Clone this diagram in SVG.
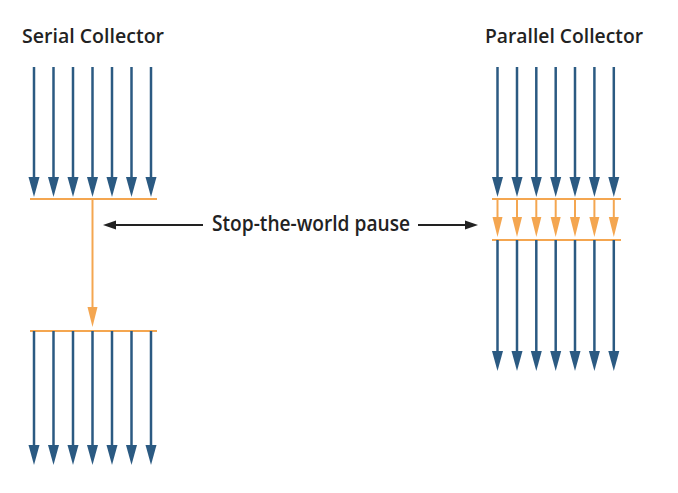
<svg xmlns="http://www.w3.org/2000/svg" width="678" height="493" viewBox="0 0 678 493">
<style>
.title{font-family:"Open Sans","Liberation Sans",sans-serif;font-weight:600;font-size:20.5px;fill:#222}
.label{font-family:"Open Sans","Liberation Sans",sans-serif;font-weight:600;font-size:21px;fill:#222}
.blue{stroke:#2b5a82;stroke-width:2.5;fill:none;marker-end:url(#hb)}
.orange{stroke:#f4a650;stroke-width:2;fill:none}
.oarrow{stroke:#f4a650;stroke-width:2;fill:none;marker-end:url(#ho)}
.black{stroke:#222;stroke-width:2;fill:none;marker-end:url(#hk)}
</style>
<defs>
<marker id="hb" markerUnits="userSpaceOnUse" markerWidth="21" markerHeight="12" refX="0" refY="6" orient="auto" overflow="visible"><path d="M0,0.5 L20,6 L0,11.5 z" fill="#2b5a82"/></marker>
<marker id="ho" markerUnits="userSpaceOnUse" markerWidth="21" markerHeight="12" refX="0" refY="6" orient="auto" overflow="visible"><path d="M0,1 L20,6 L0,11 z" fill="#f4a650"/></marker>
<marker id="hk" markerUnits="userSpaceOnUse" markerWidth="14" markerHeight="10" refX="0" refY="5" orient="auto" overflow="visible"><path d="M0,0.5 L13,5 L0,9.5 z" fill="#222"/></marker>
</defs>
<rect width="678" height="493" fill="#ffffff"/>

<g id="serial">
<text class="title" x="22" y="43" textLength="142" lengthAdjust="spacingAndGlyphs">Serial Collector</text>
<g id="serial-threads-before">
<line class="blue" x1="34" y1="67" x2="34" y2="177"/>
<line class="blue" x1="53.5" y1="67" x2="53.5" y2="177"/>
<line class="blue" x1="73" y1="67" x2="73" y2="177"/>
<line class="blue" x1="92.5" y1="67" x2="92.5" y2="177"/>
<line class="blue" x1="112" y1="67" x2="112" y2="177"/>
<line class="blue" x1="131.5" y1="67" x2="131.5" y2="177"/>
<line class="blue" x1="151" y1="67" x2="151" y2="177"/>
</g>
<line class="orange" x1="30" y1="199" x2="157" y2="199"/>
<line class="oarrow" x1="92.5" y1="199" x2="92.5" y2="307"/>
<line class="orange" x1="30" y1="331" x2="157" y2="331"/>
<g id="serial-threads-after">
<line class="blue" x1="34" y1="331" x2="34" y2="445"/>
<line class="blue" x1="53.5" y1="331" x2="53.5" y2="445"/>
<line class="blue" x1="73" y1="331" x2="73" y2="445"/>
<line class="blue" x1="92.5" y1="331" x2="92.5" y2="445"/>
<line class="blue" x1="112" y1="331" x2="112" y2="445"/>
<line class="blue" x1="131.5" y1="331" x2="131.5" y2="445"/>
<line class="blue" x1="151" y1="331" x2="151" y2="445"/>
</g>
</g>

<g id="parallel">
<text class="title" x="485" y="43" textLength="158" lengthAdjust="spacingAndGlyphs">Parallel Collector</text>
<g id="parallel-threads-before">
<line class="blue" x1="497.5" y1="67" x2="497.5" y2="177"/>
<line class="blue" x1="517" y1="67" x2="517" y2="177"/>
<line class="blue" x1="536.3" y1="67" x2="536.3" y2="177"/>
<line class="blue" x1="555.7" y1="67" x2="555.7" y2="177"/>
<line class="blue" x1="575" y1="67" x2="575" y2="177"/>
<line class="blue" x1="594.4" y1="67" x2="594.4" y2="177"/>
<line class="blue" x1="613.8" y1="67" x2="613.8" y2="177"/>
</g>
<line class="orange" x1="492" y1="199" x2="621" y2="199"/>
<g id="parallel-gc">
<line class="oarrow" x1="497.5" y1="199" x2="497.5" y2="217"/>
<line class="oarrow" x1="517" y1="199" x2="517" y2="217"/>
<line class="oarrow" x1="536.3" y1="199" x2="536.3" y2="217"/>
<line class="oarrow" x1="555.7" y1="199" x2="555.7" y2="217"/>
<line class="oarrow" x1="575" y1="199" x2="575" y2="217"/>
<line class="oarrow" x1="594.4" y1="199" x2="594.4" y2="217"/>
<line class="oarrow" x1="613.8" y1="199" x2="613.8" y2="217"/>
</g>
<line class="orange" x1="492" y1="240" x2="621" y2="240"/>
<g id="parallel-threads-after">
<line class="blue" x1="497.5" y1="240" x2="497.5" y2="351"/>
<line class="blue" x1="517" y1="240" x2="517" y2="351"/>
<line class="blue" x1="536.3" y1="240" x2="536.3" y2="351"/>
<line class="blue" x1="555.7" y1="240" x2="555.7" y2="351"/>
<line class="blue" x1="575" y1="240" x2="575" y2="351"/>
<line class="blue" x1="594.4" y1="240" x2="594.4" y2="351"/>
<line class="blue" x1="613.8" y1="240" x2="613.8" y2="351"/>
</g>
</g>

<g id="pause-label">
<text class="label" x="212" y="231" textLength="198" lengthAdjust="spacingAndGlyphs">Stop-the-world pause</text>
</g>
<g id="connectors">
<line class="black" x1="203" y1="225" x2="116" y2="225"/>
<line class="black" x1="418" y1="225" x2="465" y2="225"/>
</g>
</svg>
